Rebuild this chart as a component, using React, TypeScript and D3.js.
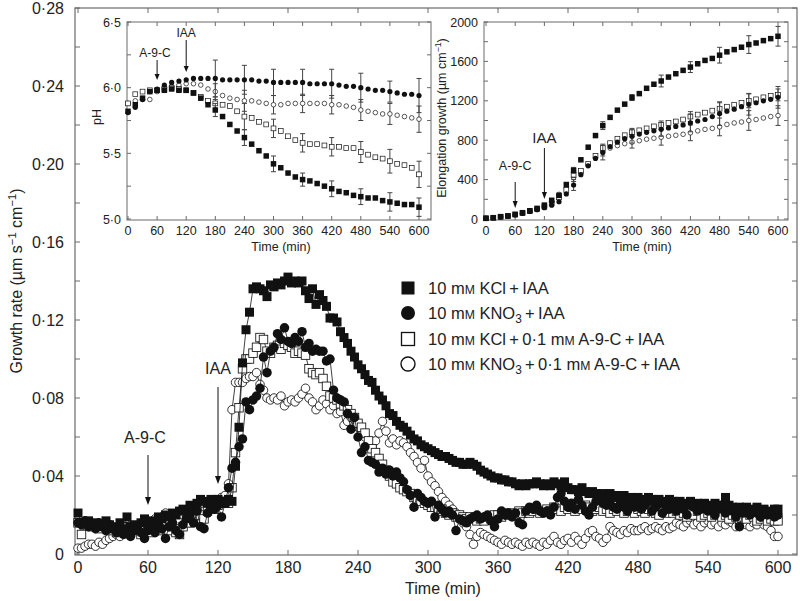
import React from 'react';
import * as d3 from 'd3';

// ---------- main chart data (growth rate, µm s-1 cm-1), sampled every 3 min ----------
const MAIN_STEP = 3;
const kclIaa = [
  0.021,0.016,0.016,0.017,0.015,0.016,0.014,0.015,0.017,0.015,
  0.013,0.014,0.016,0.012,0.019,0.014,0.015,0.013,0.016,0.018,
  0.015,0.017,0.016,0.019,0.018,0.020,0.019,0.021,0.020,0.022,
  0.023,0.022,0.025,0.024,0.026,0.028,0.027,0.026,0.028,0.027,
  0.028,0.027,0.026,0.028,0.027,0.045,0.065,0.098,0.115,0.124,
  0.136,0.137,0.136,0.135,0.132,0.138,0.137,0.139,0.138,0.140,
  0.142,0.139,0.140,0.139,0.140,0.135,0.131,0.136,0.128,0.133,
  0.130,0.127,0.121,0.121,0.119,0.114,0.111,0.108,0.104,0.101,
  0.097,0.095,0.092,0.089,0.088,0.084,0.081,0.079,0.076,0.072,
  0.071,0.068,0.066,0.065,0.063,0.061,0.059,0.058,0.056,0.055,
  0.054,0.053,0.052,0.051,0.050,0.050,0.049,0.048,0.047,0.047,
  0.046,0.046,0.047,0.046,0.045,0.043,0.042,0.041,0.040,0.039,
  0.039,0.038,0.038,0.037,0.037,0.036,0.035,0.036,0.035,0.036,
  0.036,0.037,0.036,0.035,0.036,0.035,0.037,0.036,0.035,0.037,
  0.034,0.033,0.033,0.032,0.034,0.032,0.031,0.032,0.031,0.030,
  0.031,0.030,0.031,0.029,0.030,0.029,0.030,0.028,0.029,0.028,
  0.029,0.028,0.027,0.029,0.028,0.027,0.028,0.026,0.027,0.028,
  0.027,0.026,0.027,0.025,0.026,0.027,0.025,0.026,0.024,0.026,
  0.025,0.024,0.026,0.025,0.024,0.029,0.025,0.024,0.023,0.024,
  0.023,0.024,0.022,0.023,0.024,0.022,0.023,0.021,0.022,0.023,
  0.023,
];
const kno3Iaa = [
  0.016,0.015,0.017,0.014,0.015,0.013,0.016,0.014,0.012,0.015,
  0.013,0.011,0.014,0.010,0.013,0.009,0.012,0.014,0.011,0.008,
  0.012,0.014,0.011,0.015,0.013,0.008,0.014,0.016,0.012,0.010,
  0.015,0.018,0.020,0.016,0.022,0.014,0.013,0.021,0.024,0.023,
  0.025,0.019,0.026,0.034,0.044,0.047,0.055,0.059,0.078,0.074,
  0.079,0.081,0.085,0.101,0.093,0.104,0.106,0.113,0.110,0.116,
  0.109,0.108,0.111,0.109,0.114,0.106,0.108,0.104,0.105,0.104,
  0.104,0.099,0.100,0.084,0.080,0.079,0.078,0.072,0.064,0.070,
  0.060,0.052,0.055,0.048,0.047,0.046,0.042,0.044,0.041,0.043,
  0.040,0.042,0.039,0.037,0.033,0.030,0.024,0.031,0.029,0.027,
  0.026,0.027,0.019,0.025,0.023,0.021,0.022,0.020,0.012,0.018,
  0.017,0.016,0.018,0.019,0.020,0.018,0.019,0.020,0.017,0.014,
  0.018,0.022,0.020,0.021,0.019,0.021,0.016,0.015,0.022,0.024,
  0.023,0.025,0.022,0.021,0.022,0.020,0.024,0.029,0.031,0.027,
  0.024,0.026,0.023,0.028,0.025,0.022,0.020,0.024,0.027,0.028,
  0.026,0.025,0.027,0.024,0.023,0.026,0.024,0.022,0.025,0.024,
  0.026,0.023,0.025,0.027,0.022,0.024,0.026,0.021,0.025,0.023,
  0.024,0.022,0.026,0.023,0.020,0.025,0.024,0.022,0.023,0.025,
  0.022,0.024,0.020,0.023,0.025,0.021,0.023,0.022,0.019,0.014,
  0.021,0.023,0.020,0.022,0.021,0.019,0.022,0.020,0.021,0.019,
  0.020,
];
const kclA9cIaa = [
  0.016,0.010,0.015,0.016,0.014,0.015,0.013,0.015,0.014,0.012,
  0.013,0.011,0.012,0.014,0.012,0.011,0.013,0.012,0.010,0.012,
  0.013,0.011,0.014,0.012,0.013,0.015,0.012,0.014,0.011,0.010,
  0.014,0.017,0.016,0.019,0.021,0.020,0.018,0.022,0.024,0.023,
  0.025,0.026,0.027,0.026,0.034,0.052,0.075,0.095,0.100,0.100,
  0.103,0.106,0.111,0.110,0.104,0.103,0.106,0.107,0.105,0.108,
  0.107,0.106,0.103,0.104,0.103,0.102,0.095,0.093,0.092,0.093,
  0.090,0.086,0.081,0.080,0.079,0.077,0.076,0.074,0.072,0.070,
  0.067,0.065,0.062,0.058,0.054,0.052,0.049,0.046,0.043,0.040,
  0.037,0.036,0.034,0.033,0.032,0.031,0.029,0.028,0.027,0.026,
  0.025,0.024,0.024,0.022,0.023,0.021,0.020,0.021,0.019,0.020,
  0.019,0.018,0.019,0.018,0.017,0.018,0.017,0.019,0.018,0.020,
  0.020,0.019,0.021,0.020,0.021,0.020,0.022,0.021,0.022,0.021,
  0.022,0.023,0.021,0.022,0.023,0.022,0.024,0.023,0.022,0.024,
  0.023,0.024,0.022,0.024,0.023,0.025,0.024,0.022,0.023,0.024,
  0.022,0.023,0.021,0.023,0.022,0.024,0.021,0.022,0.023,0.021,
  0.023,0.022,0.021,0.023,0.022,0.021,0.020,0.022,0.021,0.023,
  0.021,0.022,0.020,0.021,0.019,0.021,0.020,0.022,0.019,0.020,
  0.021,0.019,0.020,0.022,0.019,0.020,0.018,0.020,0.019,0.018,
  0.019,0.018,0.020,0.019,0.017,0.018,0.019,0.017,0.018,0.017,
  0.017,
];
const kno3A9cIaa = [
  0.003,0.003,0.004,0.005,0.005,0.004,0.006,0.005,0.007,0.008,
  0.009,0.010,0.009,0.011,0.012,0.011,0.013,0.012,0.014,0.015,
  0.014,0.016,0.018,0.017,0.019,0.021,0.018,0.020,0.019,0.017,
  0.020,0.018,0.016,0.019,0.017,0.020,0.022,0.024,0.023,0.026,
  0.027,0.029,0.030,0.036,0.074,0.088,0.088,0.088,0.090,0.091,
  0.091,0.093,0.087,0.084,0.080,0.079,0.080,0.079,0.081,0.076,
  0.078,0.079,0.078,0.080,0.082,0.085,0.080,0.078,0.074,0.076,
  0.079,0.077,0.074,0.076,0.072,0.073,0.066,0.068,0.070,0.069,
  0.065,0.062,0.060,0.057,0.055,0.058,0.062,0.068,0.063,0.057,
  0.059,0.056,0.058,0.057,0.055,0.052,0.050,0.047,0.044,0.048,
  0.040,0.037,0.035,0.032,0.029,0.027,0.025,0.023,0.021,0.019,
  0.016,0.014,0.010,0.005,0.009,0.011,0.010,0.009,0.008,0.007,
  0.006,0.005,0.007,0.006,0.005,0.006,0.005,0.004,0.006,0.005,
  0.006,0.005,0.004,0.006,0.005,0.007,0.009,0.006,0.005,0.007,
  0.008,0.006,0.009,0.007,0.005,0.008,0.011,0.012,0.009,0.008,
  0.006,0.008,0.014,0.012,0.011,0.010,0.012,0.011,0.013,0.012,
  0.012,0.013,0.014,0.012,0.013,0.014,0.013,0.012,0.014,0.013,
  0.014,0.016,0.015,0.014,0.016,0.017,0.015,0.016,0.014,0.016,
  0.017,0.015,0.016,0.014,0.016,0.015,0.017,0.016,0.014,0.015,
  0.016,0.015,0.014,0.016,0.015,0.017,0.015,0.014,0.012,0.009,
  0.009,
];

// ---------- inset data, sampled every 15 min ----------
const INSET_STEP = 15;
const phKclIaa = [5.82,5.87,5.92,5.97,5.98,5.98,5.99,5.98,5.98,5.96,5.92,5.87,5.83,5.78,5.72,5.67,5.62,5.57,5.52,5.48,5.42,5.39,5.35,5.32,5.30,5.29,5.27,5.25,5.23,5.21,5.20,5.18,5.17,5.16,5.16,5.14,5.13,5.12,5.11,5.11,5.09];
const phKno3Iaa = [5.81,5.85,5.91,5.97,5.99,6.02,6.04,6.05,6.06,6.07,6.07,6.07,6.07,6.06,6.06,6.06,6.06,6.06,6.05,6.05,6.04,6.04,6.04,6.04,6.04,6.03,6.03,6.03,6.03,6.02,6.01,6.01,6.00,5.99,5.98,5.98,5.97,5.96,5.95,5.95,5.94];
const phKclA9c = [5.88,5.95,5.97,5.98,5.98,5.99,6.00,5.99,5.98,5.96,5.93,5.90,5.88,5.87,5.86,5.82,5.78,5.77,5.74,5.72,5.69,5.67,5.63,5.60,5.58,5.57,5.57,5.56,5.55,5.55,5.54,5.54,5.51,5.49,5.47,5.46,5.44,5.42,5.41,5.39,5.34];
const phKno3A9c = [5.88,5.90,5.91,5.91,5.97,6.00,6.01,6.02,6.03,6.03,6.02,5.99,5.97,5.94,5.92,5.91,5.90,5.90,5.89,5.88,5.87,5.87,5.88,5.88,5.88,5.88,5.88,5.88,5.87,5.87,5.86,5.85,5.83,5.82,5.81,5.80,5.80,5.79,5.78,5.77,5.76];

const elKclIaa = [7,13,24,30,47,64,84,108,141,190,240,350,494,601,729,847,948,1032,1105,1166,1233,1273,1327,1368,1401,1441,1475,1509,1542,1576,1610,1630,1663,1697,1720,1744,1771,1787,1811,1831,1855];
const elKno3Iaa = [7,13,22,30,43,58,76,95,115,140,175,255,345,450,540,615,675,735,780,815,840,862,880,895,910,925,940,955,975,995,1010,1040,1070,1095,1115,1140,1165,1180,1200,1215,1235];
const elKclA9c = [7,13,22,32,45,60,80,100,125,160,220,295,450,490,560,640,720,770,815,850,880,900,920,940,955,975,990,1010,1040,1060,1080,1100,1120,1140,1160,1180,1200,1215,1235,1250,1260];
const elKno3A9c = [7,12,20,30,42,58,78,100,130,175,250,310,420,470,555,625,690,720,745,765,780,795,810,820,830,840,850,860,875,895,910,920,935,960,975,985,1000,1010,1025,1040,1050];

const errTimes = [180, 240, 300, 360, 420, 480, 540, 600];
const phErrKclIaa = [0.05, 0.06, 0.06, 0.05, 0.06, 0.06, 0.07, 0.07];
const phErrKno3Iaa = [0.14, 0.11, 0.10, 0.10, 0.11, 0.11, 0.08, 0.13];
const phErrKclA9c = [0.05, 0.10, 0.07, 0.07, 0.07, 0.08, 0.09, 0.10];
const phErrKno3A9c = [0.06, 0.08, 0.07, 0.07, 0.07, 0.08, 0.08, 0.10];
const elErrKclIaa = [30, 40, 30, 60, 55, 80, 90, 100];
const elErrKno3Iaa = [55, 75, 70, 70, 90, 120, 110, 110];
const elErrKclA9c = [30, 40, 40, 40, 50, 60, 70, 60];
const elErrKno3A9c = [40, 50, 60, 80, 80, 90, 100, 100];

const mainTicksX = [0, 60, 120, 180, 240, 300, 360, 420, 480, 540, 600];
const mainTicksY = [0, 0.04, 0.08, 0.12, 0.16, 0.2, 0.24, 0.28];
const phTicks = [5.0, 5.5, 6.0, 6.5];
const elTicks = [0, 400, 800, 1200, 1600, 2000];

const FONT = "'Liberation Sans', Arial, Helvetica, sans-serif";
const INK = '#111';
const AXIS = '#6a6a6a';

type Shape = 'fsq' | 'fci' | 'osq' | 'oci';

function fmt(v: number, digits: number) {
  if (v === 0) return '0';
  return v.toFixed(digits).replace('.', '\u00B7');
}

function Marker({ shape, cx, cy, s }: { shape: Shape; cx: number; cy: number; s: number }) {
  const filled = shape === 'fsq' || shape === 'fci';
  const fill = filled ? INK : '#fff';
  const sw = filled ? 0 : Math.max(0.7, s * 0.1);
  if (shape === 'fsq' || shape === 'osq') {
    return <rect x={cx - s / 2} y={cy - s / 2} width={s} height={s} fill={fill} stroke={INK} strokeWidth={sw} />;
  }
  return <circle cx={cx} cy={cy} r={s / 2} fill={fill} stroke={INK} strokeWidth={sw} />;
}

function Arrow({ x, y1, y2, head = 8, w = 3 }: { x: number; y1: number; y2: number; head?: number; w?: number }) {
  return (
    <g>
      <line x1={x} x2={x} y1={y1} y2={y2 - head + 1} stroke={INK} strokeWidth={1} />
      <path d={`M${x - w},${y2 - head} L${x + w},${y2 - head} L${x},${y2} Z`} fill={INK} />
    </g>
  );
}

function MM() {
  return (
    <tspan>
      m<tspan fontSize="0.74em">M</tspan>
    </tspan>
  );
}

export default function App() {
  // main scales
  const x = d3.scaleLinear().domain([0, 600]).range([78, 778]);
  const y = d3.scaleLinear().domain([0, 0.28]).range([554, 8]);
  const F = { l: 75, r: 797, t: 8, b: 555 };

  const mainSeries: { vals: number[]; shape: Shape }[] = [
    { vals: kno3A9cIaa, shape: 'oci' },
    { vals: kclA9cIaa, shape: 'osq' },
    { vals: kno3Iaa, shape: 'fci' },
    { vals: kclIaa, shape: 'fsq' },
  ];
  const line = d3
    .line<number>()
    .x((_, i) => x(i * MAIN_STEP))
    .y((d) => y(d));

  // inset 1 (pH)
  const x1 = d3.scaleLinear().domain([0, 600]).range([128, 419]);
  const y1 = d3.scaleLinear().domain([5, 6.5]).range([219, 22]);
  const F1 = { l: 127, r: 431, t: 22, b: 220 };
  // inset 2 (elongation)
  const x2 = d3.scaleLinear().domain([0, 600]).range([486, 778]);
  const y2 = d3.scaleLinear().domain([0, 2000]).range([219, 22]);
  const F2 = { l: 484, r: 788, t: 22, b: 220 };

  const phSeries: { vals: number[]; err: number[]; shape: Shape }[] = [
    { vals: phKno3A9c, err: phErrKno3A9c, shape: 'oci' },
    { vals: phKclA9c, err: phErrKclA9c, shape: 'osq' },
    { vals: phKno3Iaa, err: phErrKno3Iaa, shape: 'fci' },
    { vals: phKclIaa, err: phErrKclIaa, shape: 'fsq' },
  ];
  const elSeries: { vals: number[]; err: number[]; shape: Shape }[] = [
    { vals: elKno3A9c, err: elErrKno3A9c, shape: 'oci' },
    { vals: elKclA9c, err: elErrKclA9c, shape: 'osq' },
    { vals: elKno3Iaa, err: elErrKno3Iaa, shape: 'fci' },
    { vals: elKclIaa, err: elErrKclIaa, shape: 'fsq' },
  ];

  const insetSize = (s: Shape) => (s === 'fsq' ? 5.5 : s === 'fci' ? 5.2 : s === 'osq' ? 4.8 : 4.6);
  const mainSize = (s: Shape) => (s === 'fsq' ? 9 : s === 'fci' ? 9.5 : s === 'osq' ? 8.5 : 8.5);

  const renderInset = (
    xs: d3.ScaleLinear<number, number>,
    ys: d3.ScaleLinear<number, number>,
    Fr: { l: number; r: number; t: number; b: number },
    series: { vals: number[]; err: number[]; shape: Shape }[],
    yTicks: number[],
    yMinor: number[],
    yFmt: (v: number) => string,
    key: string,
  ) => (
    <g key={key}>
      <rect x={Fr.l} y={Fr.t} width={Fr.r - Fr.l} height={Fr.b - Fr.t} fill="#fff" stroke={AXIS} strokeWidth={1} />
      {mainTicksX.map((t) => (
        <g key={'xt' + t}>
          <line x1={xs(t)} x2={xs(t)} y1={Fr.b} y2={Fr.b - 4} stroke={AXIS} />
          <line x1={xs(t)} x2={xs(t)} y1={Fr.t} y2={Fr.t + 4} stroke={AXIS} />
          <text x={xs(t)} y={235} fontSize={12.5} textAnchor="middle" fill="#222" fontFamily={FONT}>
            {t}
          </text>
        </g>
      ))}
      {yMinor.map((v) => (
        <g key={'ym' + v}>
          <line x1={Fr.l} x2={Fr.l + 4} y1={ys(v)} y2={ys(v)} stroke={AXIS} />
          <line x1={Fr.r} x2={Fr.r - 4} y1={ys(v)} y2={ys(v)} stroke={AXIS} />
        </g>
      ))}
      {yTicks.map((v) => (
        <text key={'yl' + v} x={Fr.l - 6} y={ys(v) + 4.5} fontSize={12.5} textAnchor="end" fill="#222" fontFamily={FONT}>
          {yFmt(v)}
        </text>
      ))}
      <text x={(Fr.l + Fr.r) / 2 + (key === 'in1' ? 2 : 6)} y={251} fontSize={12.5} textAnchor="middle" fill="#222" fontFamily={FONT}>
        Time (min)
      </text>
      {series.map((s, si) => (
        <g key={'s' + si}>
          {errTimes.map((t, i) => {
            const v = s.vals[t / INSET_STEP];
            const cx = xs(t);
            return (
              <g key={'e' + i}>
                <line x1={cx} x2={cx} y1={ys(v - s.err[i])} y2={ys(v + s.err[i])} stroke="#444" strokeWidth={1} />
                <line x1={cx - 2.5} x2={cx + 2.5} y1={ys(v - s.err[i])} y2={ys(v - s.err[i])} stroke="#444" strokeWidth={1} />
                <line x1={cx - 2.5} x2={cx + 2.5} y1={ys(v + s.err[i])} y2={ys(v + s.err[i])} stroke="#444" strokeWidth={1} />
              </g>
            );
          })}
          {s.vals.map((v, i) => (
            <Marker key={i} shape={s.shape} cx={xs(i * INSET_STEP)} cy={ys(v)} s={insetSize(s.shape)} />
          ))}
        </g>
      ))}
    </g>
  );

  const legendRows: { shape: Shape; label: React.ReactNode }[] = [
    { shape: 'fsq', label: <>10 <MM /> KCl{'\u2009+\u2009'}IAA</> },
    {
      shape: 'fci',
      label: (
        <>
          10 <MM /> KNO<tspan dy={4} fontSize="0.72em">3</tspan>
          <tspan dy={-4}>{'\u2009+\u2009'}IAA</tspan>
        </>
      ),
    },
    { shape: 'osq', label: <>10 <MM /> KCl{'\u2009+\u2009'}0{'\u00B7'}1 <MM /> A-9-C{'\u2009+\u2009'}IAA</> },
    {
      shape: 'oci',
      label: (
        <>
          10 <MM /> KNO<tspan dy={4} fontSize="0.72em">3</tspan>
          <tspan dy={-4}>{'\u2009+\u2009'}0{'\u00B7'}1 </tspan>
          <MM /> A-9-C{'\u2009+\u2009'}IAA
        </>
      ),
    },
  ];
  const legendY = [288, 313, 339, 364];

  return (
    <svg width={800} height={601} style={{ position: 'absolute', left: 0, top: 0, background: '#fff' }} fontFamily={FONT}>
      <rect x={0} y={0} width={800} height={601} fill="#fff" />
      {/* main frame */}
      <rect x={F.l} y={F.t} width={F.r - F.l} height={F.b - F.t} fill="none" stroke={AXIS} strokeWidth={1.2} />
      {d3.range(0, 0.2801, 0.02).map((v) => (
        <g key={'my' + v}>
          <line x1={F.l} x2={F.l + 5} y1={y(v)} y2={y(v)} stroke={AXIS} />
          <line x1={F.r} x2={F.r - 5} y1={y(v)} y2={y(v)} stroke={AXIS} />
        </g>
      ))}
      {mainTicksY.map((v) => (
        <text key={'myl' + v} x={64} y={y(v) + 5.5} fontSize={16} textAnchor="end" fill="#222">
          {fmt(v, 2)}
        </text>
      ))}
      {mainTicksX.map((t) => (
        <g key={'mx' + t}>
          <line x1={x(t)} x2={x(t)} y1={F.b} y2={F.b - 5} stroke={AXIS} />
          <line x1={x(t)} x2={x(t)} y1={F.t} y2={F.t + 5} stroke={AXIS} />
          <text x={x(t)} y={573} fontSize={16} textAnchor="middle" fill="#222">
            {t}
          </text>
        </g>
      ))}
      <text x={443} y={594} fontSize={16} textAnchor="middle" fill="#222">
        Time (min)
      </text>
      <text transform="translate(22,281) rotate(-90)" fontSize={16} textAnchor="middle" fill="#222">
        Growth rate (µm s<tspan dy={-6} fontSize="0.7em">−1</tspan>
        <tspan dy={6}> cm</tspan>
        <tspan dy={-6} fontSize="0.7em">−1</tspan>
        <tspan dy={6}>)</tspan>
      </text>

      {/* main series */}
      {mainSeries.map((s, si) => (
        <g key={'ms' + si}>
          <path d={line(s.vals) || ''} fill="none" stroke={INK} strokeWidth={0.8} />
          {s.vals.map((v, i) => (
            <Marker key={i} shape={s.shape} cx={x(i * MAIN_STEP)} cy={y(v)} s={mainSize(s.shape)} />
          ))}
        </g>
      ))}

      {/* main annotations */}
      <text x={x(60) - 3} y={443} fontSize={16} textAnchor="middle" fill="#222">A-9-C</text>
      <Arrow x={x(60)} y1={455} y2={505} />
      <text x={x(120)} y={374} fontSize={16} textAnchor="middle" fill="#222">IAA</text>
      <Arrow x={x(120)} y1={387} y2={484} />

      {/* legend */}
      {legendRows.map((r, i) => (
        <g key={'lg' + i}>
          <Marker shape={r.shape} cx={408} cy={legendY[i]} s={r.shape === 'fci' || r.shape === 'oci' ? 14 : 13} />
          <text x={428} y={legendY[i] + 6} fontSize={16.5} fill="#222">
            {r.label}
          </text>
        </g>
      ))}

      {/* inset 1: pH */}
      {renderInset(x1, y1, F1, phSeries, phTicks, d3.range(5, 6.501, 0.25), (v) => fmt(v, 1), 'in1')}
      <text transform="translate(101,117) rotate(-90)" fontSize={12.5} textAnchor="middle" fill="#222">pH</text>
      <text x={155} y={57} fontSize={12} textAnchor="middle" fill="#222">A-9-C</text>
      <Arrow x={x1(60)} y1={60} y2={80} head={6} w={2.5} />
      <text x={x1(120)} y={37} fontSize={12} textAnchor="middle" fill="#222">IAA</text>
      <Arrow x={x1(120)} y1={40} y2={72} head={6} w={2.5} />

      {/* inset 2: elongation */}
      {renderInset(x2, y2, F2, elSeries, elTicks, d3.range(0, 2001, 200), (v) => String(v), 'in2')}
      <text transform="translate(446,118) rotate(-90)" fontSize={12.5} textAnchor="middle" fill="#222">
        Elongation growth (µm cm<tspan dy={-5} fontSize="0.7em">−1</tspan>
        <tspan dy={5}>)</tspan>
      </text>
      <text x={x2(60)} y={170} fontSize={12.5} textAnchor="middle" fill="#222">A-9-C</text>
      <Arrow x={x2(60)} y1={182} y2={208} head={7} w={2.5} />
      <text x={x2(120)} y={143} fontSize={15} textAnchor="middle" fill="#222">IAA</text>
      <Arrow x={x2(120)} y1={148} y2={199} head={7} w={2.5} />
    </svg>
  );
}
